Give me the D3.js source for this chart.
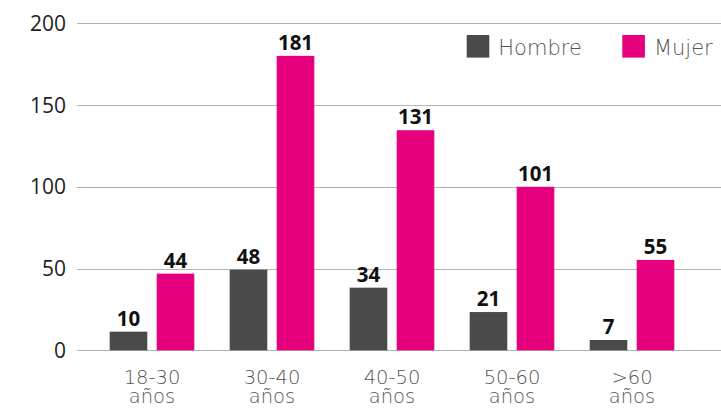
<!DOCTYPE html>
<html>
<head>
<meta charset="utf-8">
<script src="https://cdn.jsdelivr.net/npm/d3@7"></script>
<style>
  body { margin: 0; background: #fff; }
  svg { display: block; }
</style>
</head>
<body>
<svg width="721" height="409"></svg>
<script>
/*
 * Chart data
 */
var groups = ["18-30 años", "30-40 años", "40-50 años", "50-60 años", ">60 años"],
    series = ["Hombre", "Mujer"],
    colors = ["#4a4a4a", "#e6007e"],
    // bar heights as drawn in the picture
    hombre = [11.4, 49.3, 38.3, 23.4, 6.3],
    mujer = [46.9, 180.1, 134.6, 100, 55.3],
    // value labels as printed above the bars
    hombreLabels = ["10", "48", "34", "21", "7"],
    mujerLabels = ["44", "181", "131", "101", "55"],
    yTicks = [0, 50, 100, 150, 200];

var svg = d3.select("svg"),
    width = +svg.attr("width"),
    height = +svg.attr("height");

var x0 = d3.scaleBand().domain(groups).range([92, 692]).padding(0);
// two bars ~37.6px wide with a ~9.4px gap, centred in each 120px group
var x1 = d3.scaleBand().domain(series).range([17.7, 102.3]).paddingInner(0.2).paddingOuter(0);
var y = d3.scaleLinear().domain([0, 200]).range([350.3, 23.3]);

/*
 * Gridlines + y labels
 */
svg.append("g").selectAll("line")
    .data(yTicks)
  .enter().append("line")
    .attr("x1", 77).attr("x2", 721)
    .attr("y1", function(d) { return Math.round(y(d)) + 0.5; })
    .attr("y2", function(d) { return Math.round(y(d)) + 0.5; })
    .attr("stroke", "#b4b4b4")
    .attr("stroke-width", 1);

svg.append("g").selectAll("text")
    .data(yTicks)
  .enter().append("text")
    .attr("x", 66)
    .attr("y", function(d) { return y(d) + 7.5; })
    .attr("text-anchor", "end")
    .style("font-family", "Open Sans")
    .style("font-size", "21px")
    .style("fill", "#222")
    .text(function(d) { return d; });

/*
 * Bars
 */
var rows = groups.map(function(g, i) {
  return [
    { g: g, s: "Hombre", v: hombre[i], l: hombreLabels[i], c: colors[0] },
    { g: g, s: "Mujer", v: mujer[i], l: mujerLabels[i], c: colors[1] }
  ];
});

var grp = svg.append("g").selectAll("g")
    .data(rows)
  .enter().append("g")
    .attr("transform", function(d) { return "translate(" + x0(d[0].g) + ",0)"; });

grp.selectAll("rect")
    .data(function(d) { return d; })
  .enter().append("rect")
    .attr("x", function(d) { return x1(d.s); })
    .attr("width", x1.bandwidth())
    .attr("y", function(d) { return y(d.v); })
    .attr("height", function(d) { return y(0) - y(d.v); })
    .attr("fill", function(d) { return d.c; });

grp.selectAll("text")
    .data(function(d) { return d; })
  .enter().append("text")
    .attr("x", function(d) { return x1(d.s) + x1.bandwidth() / 2; })
    .attr("y", function(d) { return y(d.v) - 6; })
    .attr("text-anchor", "middle")
    .style("font-family", "Open Sans")
    .style("font-weight", "bold")
    .style("font-size", "20.5px")
    .style("fill", "#111")
    .text(function(d) { return d.l; });

/*
 * X labels (two lines, kept inside the bottom edge)
 */
var xl = svg.append("g").selectAll("text")
    .data(groups)
  .enter().append("text")
    .attr("x", function(d) { return x0(d) + x0.bandwidth() / 2; })
    .attr("y", 384)
    .attr("text-anchor", "middle")
    .style("font-family", "DejaVu Sans")
    .style("font-weight", 200)
    .style("font-size", "19.5px")
    .style("fill", "#555");
xl.each(function(d) {
  var parts = d.split(" ");
  var t = d3.select(this);
  t.append("tspan").attr("x", t.attr("x")).text(parts[0]);
  t.append("tspan").attr("x", t.attr("x")).attr("dy", 19).text(parts[1]);
});

/*
 * Legend
 */
var legendX = [466.7, 622.3];
var leg = svg.append("g").selectAll("g")
    .data(series)
  .enter().append("g")
    .attr("transform", function(d, i) { return "translate(" + legendX[i] + ",35)"; });
leg.append("rect")
    .attr("width", 22.6).attr("height", 22.6)
    .attr("fill", function(d, i) { return colors[i]; });
leg.append("text")
    .attr("x", 31.6).attr("y", 20)
    .style("font-family", "DejaVu Sans")
    .style("font-weight", 200)
    .style("font-size", "21px")
    .style("fill", "#555")
    .text(function(d) { return d; });
</script>
</body>
</html>
